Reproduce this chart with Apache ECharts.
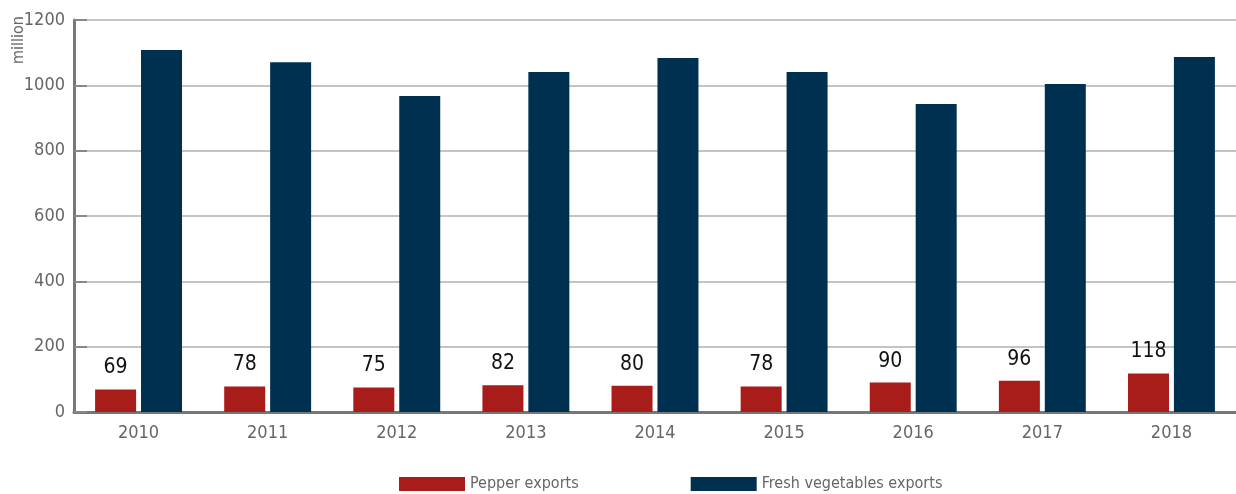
<!DOCTYPE html>
<html>
<head>
<meta charset="utf-8">
<script src="https://cdn.jsdelivr.net/npm/echarts@6/dist/echarts.min.js"></script>
<style>
html,body{margin:0;padding:0;background:#fff;}
#chart{width:1236px;height:494px;}
</style>
</head>
<body>
<div id="chart"></div>
<script>
const years = ['2010','2011','2012','2013','2014','2015','2016','2017','2018'];
const pepperExports = [69, 78, 75, 82, 80, 78, 90, 96, 118];
const freshVegExports = [1108, 1071, 967, 1041, 1084, 1041, 943, 1004, 1087];
const yTicks = [0, 200, 400, 600, 800, 1000, 1200];

const FONT = '"DejaVu Sans Condensed","Liberation Sans Narrow",sans-serif';
const chart = echarts.init(document.getElementById('chart'));
chart.setOption({
  animation: false,
  textStyle: { fontFamily: FONT },
  grid: { left: 74, right: 0, top: 20, bottom: 82, containLabel: false },
  legend: {
    top: 471,
    left: 394,
    itemWidth: 66,
    itemHeight: 14,
    itemGap: 112,
    icon: 'rect',
    textStyle: { color: '#666', fontSize: 16, fontFamily: FONT },
    data: ['Pepper exports', 'Fresh vegetables exports']
  },
  graphic: [{
    type: 'text',
    x: 11,
    y: 64,
    rotation: Math.PI / 2,
    style: { text: 'million', fill: '#666', font: '16px ' + FONT }
  }],
  xAxis: {
    type: 'category',
    data: years,
    axisLine: { lineStyle: { color: '#777', width: 3 } },
    axisTick: { inside: true, length: 8, lineStyle: { color: '#777', width: 2 } },
    axisLabel: { color: '#666', fontSize: 18, margin: 12, fontFamily: FONT }
  },
  yAxis: {
    type: 'value',
    min: 0,
    max: 1200,
    interval: 200,
    axisLine: { show: true, lineStyle: { color: '#777', width: 3 } },
    axisTick: { show: true, inside: true, length: 13, lineStyle: { color: '#888', width: 2 } },
    axisLabel: { color: '#666', fontSize: 18, margin: 9, fontFamily: FONT,
      formatter: v => yTicks.includes(v) ? String(v) : '' },
    splitLine: { lineStyle: { color: '#c4c4c4', width: 2 } }
  },
  series: [
    {
      name: 'Pepper exports',
      type: 'bar',
      data: pepperExports,
      barWidth: 41,
      barGap: '12%',
      itemStyle: { color: '#A81C1A' },
      label: { show: true, position: 'top', distance: 11, color: '#111', fontSize: 21, fontFamily: FONT }
    },
    {
      name: 'Fresh vegetables exports',
      type: 'bar',
      data: freshVegExports,
      barWidth: 41,
      itemStyle: { color: '#00304F' }
    }
  ]
});
</script>
</body>
</html>
